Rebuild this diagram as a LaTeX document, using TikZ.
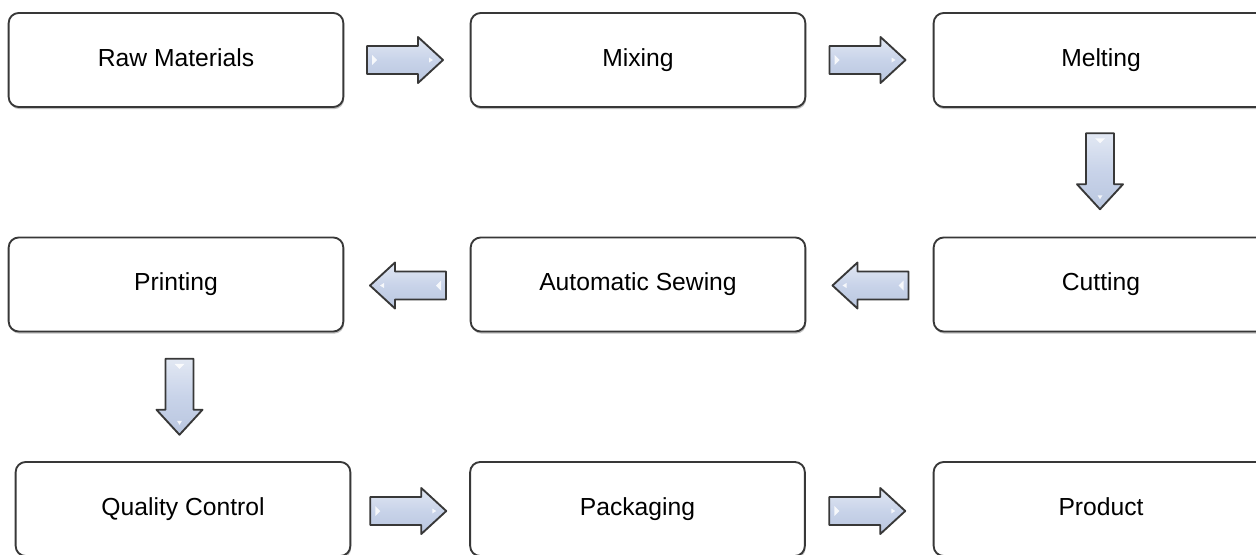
\documentclass[tikz,border=0pt]{standalone}
\usepackage{fontspec}
\setmainfont{Liberation Sans}
\usetikzlibrary{calc,shadows}

\definecolor{boxline}{HTML}{383838}
\definecolor{arrowline}{HTML}{383838}
\definecolor{arrowtop}{HTML}{E2E8F3}
\definecolor{arrowmid}{HTML}{C8D3E9}
\definecolor{arrowbot}{HTML}{B9C6DF}

\tikzset{
  stepbox/.style={draw=boxline, line width=1.4pt, rounded corners=7.5pt,
    fill=white, minimum width=251pt, minimum height=70.5pt,
    text height=13.3pt, text depth=3.7pt,
    font=\fontsize{18.5pt}{22pt}\selectfont,
    drop shadow={shadow xshift=0.6pt, shadow yshift=-1.6pt, opacity=0.25, fill=black}},
  flowarrow/.pic={
    \path[draw=arrowline, line width=1.4pt, line join=round,
          top color=arrowtop, bottom color=arrowbot, middle color=arrowmid]
      (-38,-14) -- (13,-14) -- (13,-23) -- (38,0) -- (13,23) -- (13,14)
      -- (-38,14) -- cycle;
    \fill[white, opacity=0.85] (-33,-5) -- (-28,0) -- (-33,5) -- cycle;
    \fill[white, opacity=0.85] (24,-2.5) -- (28,0) -- (24,2.5) -- cycle;
  }
}

\begin{document}
\begin{tikzpicture}[x=0.75pt, y=-0.75pt]
  \useasboundingbox (0,0) rectangle (1256,554);
  \fill[white] (0,0) rectangle (1256,554);
  \clip (0,0) rectangle (1256,554);

  % process steps
  \node[stepbox] (raw)   at (176,60)    {Raw Materials};
  \node[stepbox] (mix)   at (638,60)    {Mixing};
  \node[stepbox] (melt)  at (1101,60)   {Melting};
  \node[stepbox] (print) at (176,284.5) {Printing};
  \node[stepbox] (sew)   at (638,284.5) {Automatic Sewing};
  \node[stepbox] (cut)   at (1101,284.5){Cutting};
  \node[stepbox] (qc)    at (183,509)   {Quality Control};
  \node[stepbox] (pack)  at (637.5,509) {Packaging};
  \node[stepbox] (prod)  at (1101,509)  {Product};

  % block arrows between steps
  \pic at ($(raw.east)!0.5!(mix.west)+(-2,0)$) {flowarrow};
  \pic at ($(mix.east)!0.5!(melt.west)+(-2,0)$) {flowarrow};
  \pic[rotate=-90] at ($(melt.south)!0.5!(cut.north)+(-1,-1)$) {flowarrow};
  \pic[rotate=180] at ($(cut.west)!0.5!(sew.east)+(1,1)$) {flowarrow};
  \pic[rotate=180] at ($(sew.west)!0.5!(print.east)+(1,1)$) {flowarrow};
  \pic[rotate=-90] at ($(print.south)!0.5!(qc.north)$) {flowarrow};
  \pic at ($(qc.east)!0.5!(pack.west)+(-2,2)$) {flowarrow};
  \pic at ($(pack.east)!0.5!(prod.west)+(-2,2)$) {flowarrow};
\end{tikzpicture}
\end{document}
